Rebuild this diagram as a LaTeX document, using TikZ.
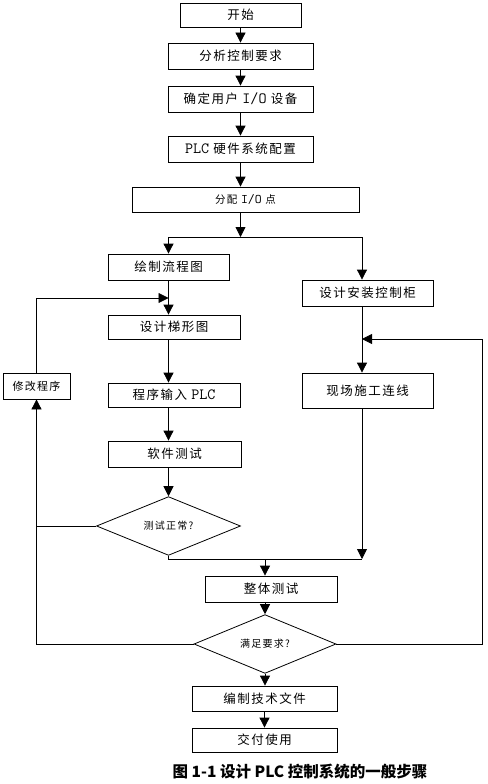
\documentclass[tikz,border=0pt]{standalone}
\usepackage{fontspec}
\setmainfont{Liberation Serif}
\newfontfamily\cjk[LetterSpace=12]{Noto Sans CJK SC}
\newfontfamily\capfont{Noto Sans CJK SC}
\newcommand\lat[1]{{\ttfamily\scalebox{1.25}{#1}}}
\usetikzlibrary{arrows.meta}
\usetikzlibrary{shapes.geometric}

\begin{document}
\begin{tikzpicture}[x=1pt,y=-1pt,line width=0.8pt,
		box/.style={draw, inner sep=0pt, font=\cjk\fontsize{12.5}{14}\selectfont},
		choice/.style={draw, diamond, inner sep=0pt, font=\cjk\fontsize{10}{12}\selectfont},
		arr/.style={-{Triangle[width=10pt,length=10pt]}}]
		\useasboundingbox (0,0) rectangle (487,784);
		% main column
		\node[box, minimum width=121pt, minimum height=24pt] (start) at (240.5,15) {开始};
		\node[box, minimum width=145pt, minimum height=26pt] (req) at (240.5,56) {分析控制要求};
		\node[box, minimum width=145pt, minimum height=26pt] (io) at (240.5,99) {确定用户 \lat{I/O} 设备};
		\node[box, minimum width=145pt, minimum height=26pt] (hw) at (240.5,149) {\lat{PLC} 硬件系统配置};
		\node[box, minimum width=227pt, minimum height=25pt, font=\cjk\fontsize{10.5}{12}\selectfont] (assign) at (245.5,199.5) {分配 \lat{I/O} 点};
		\coordinate (split) at (240.5,237);
		% software branch
		\node[box, minimum width=121pt, minimum height=26pt] (flow) at (168.5,267) {绘制流程图};
		\node[box, minimum width=132pt, minimum height=24pt] (ladder) at (174,327) {设计梯形图};
		\node[box, minimum width=132pt, minimum height=24pt] (input) at (174,395) {程序输入 \lat{PLC}};
		\node[box, minimum width=133pt, minimum height=26pt] (soft) at (174.5,454) {软件测试};
		\node[choice, minimum width=144pt, minimum height=50pt] (test) at (168.5,526) {测试正常?};
		\node[box, minimum width=67pt, minimum height=26pt, font=\cjk\fontsize{11}{13}\selectfont] (modify) at (36.5,386) {修改程序};
		\coordinate (fb) at (168.5,298);
		% hardware branch
		\node[box, minimum width=131pt, minimum height=26pt] (cab) at (367.5,293) {设计安装控制柜};
		\node[box, minimum width=131pt, minimum height=35pt] (site) at (367.5,390.5) {现场施工连线};
		\coordinate (back) at (362,339);
		\coordinate (join) at (362,559);
		% joint test
		\node[box, minimum width=132pt, minimum height=26pt] (whole) at (271,589) {整体测试};
		\node[choice, minimum width=142pt, minimum height=50pt] (meet) at (265,644) {满足要求?};
		\node[box, minimum width=145pt, minimum height=25pt] (doc) at (264.5,698.5) {编制技术文件};
		\node[box, minimum width=145pt, minimum height=24pt] (deliver) at (264.5,740) {交付使用};
		\node[font=\capfont\bfseries\fontsize{15.5}{17}\selectfont] (title) at (300,772) {图 1-1 设计 PLC 控制系统的一般步骤};

		\draw[arr] (start) -- (req);
		\draw[arr] (req) -- (io);
		\draw[arr] (io) -- (hw);
		\draw[arr] (hw.south) -- (hw.south |- assign.north);
		\draw[arr] (hw.south |- assign.south) -- (split);
		\draw[arr] (split) -| (flow.north);
		\draw[arr] (split) -| (join |- cab.north);
		\draw[arr] (flow.south) -- (flow.south |- ladder.north);
		\draw[arr] (modify.north) |- (fb);
		\draw[arr] (flow.south |- ladder.south) -- (flow.south |- input.north);
		\draw[arr] (flow.south |- input.south) -- (flow.south |- soft.north);
		\draw[arr] (flow.south |- soft.south) -- (test.north);
		\draw[arr] (test.west) -| (modify.south);
		\draw (test.south) |- (join);
		\draw[arr] (join |- cab.south) -- (join |- site.north);
		\draw[arr] (join |- site.south) -- (join);
		\draw[arr] (meet.north |- join) -- (meet.north |- whole.north);
		\draw[arr] (meet.north |- whole.south) -- (meet.north);
		\draw (meet.west) -| (modify.south |- test.west);
		\draw[arr] (meet.east) -- ++(146,0) |- (back);
		\draw[arr] (meet.south) -- (meet.south |- doc.north);
		\draw[arr] (doc) -- (deliver);
	\end{tikzpicture}
\end{document}
